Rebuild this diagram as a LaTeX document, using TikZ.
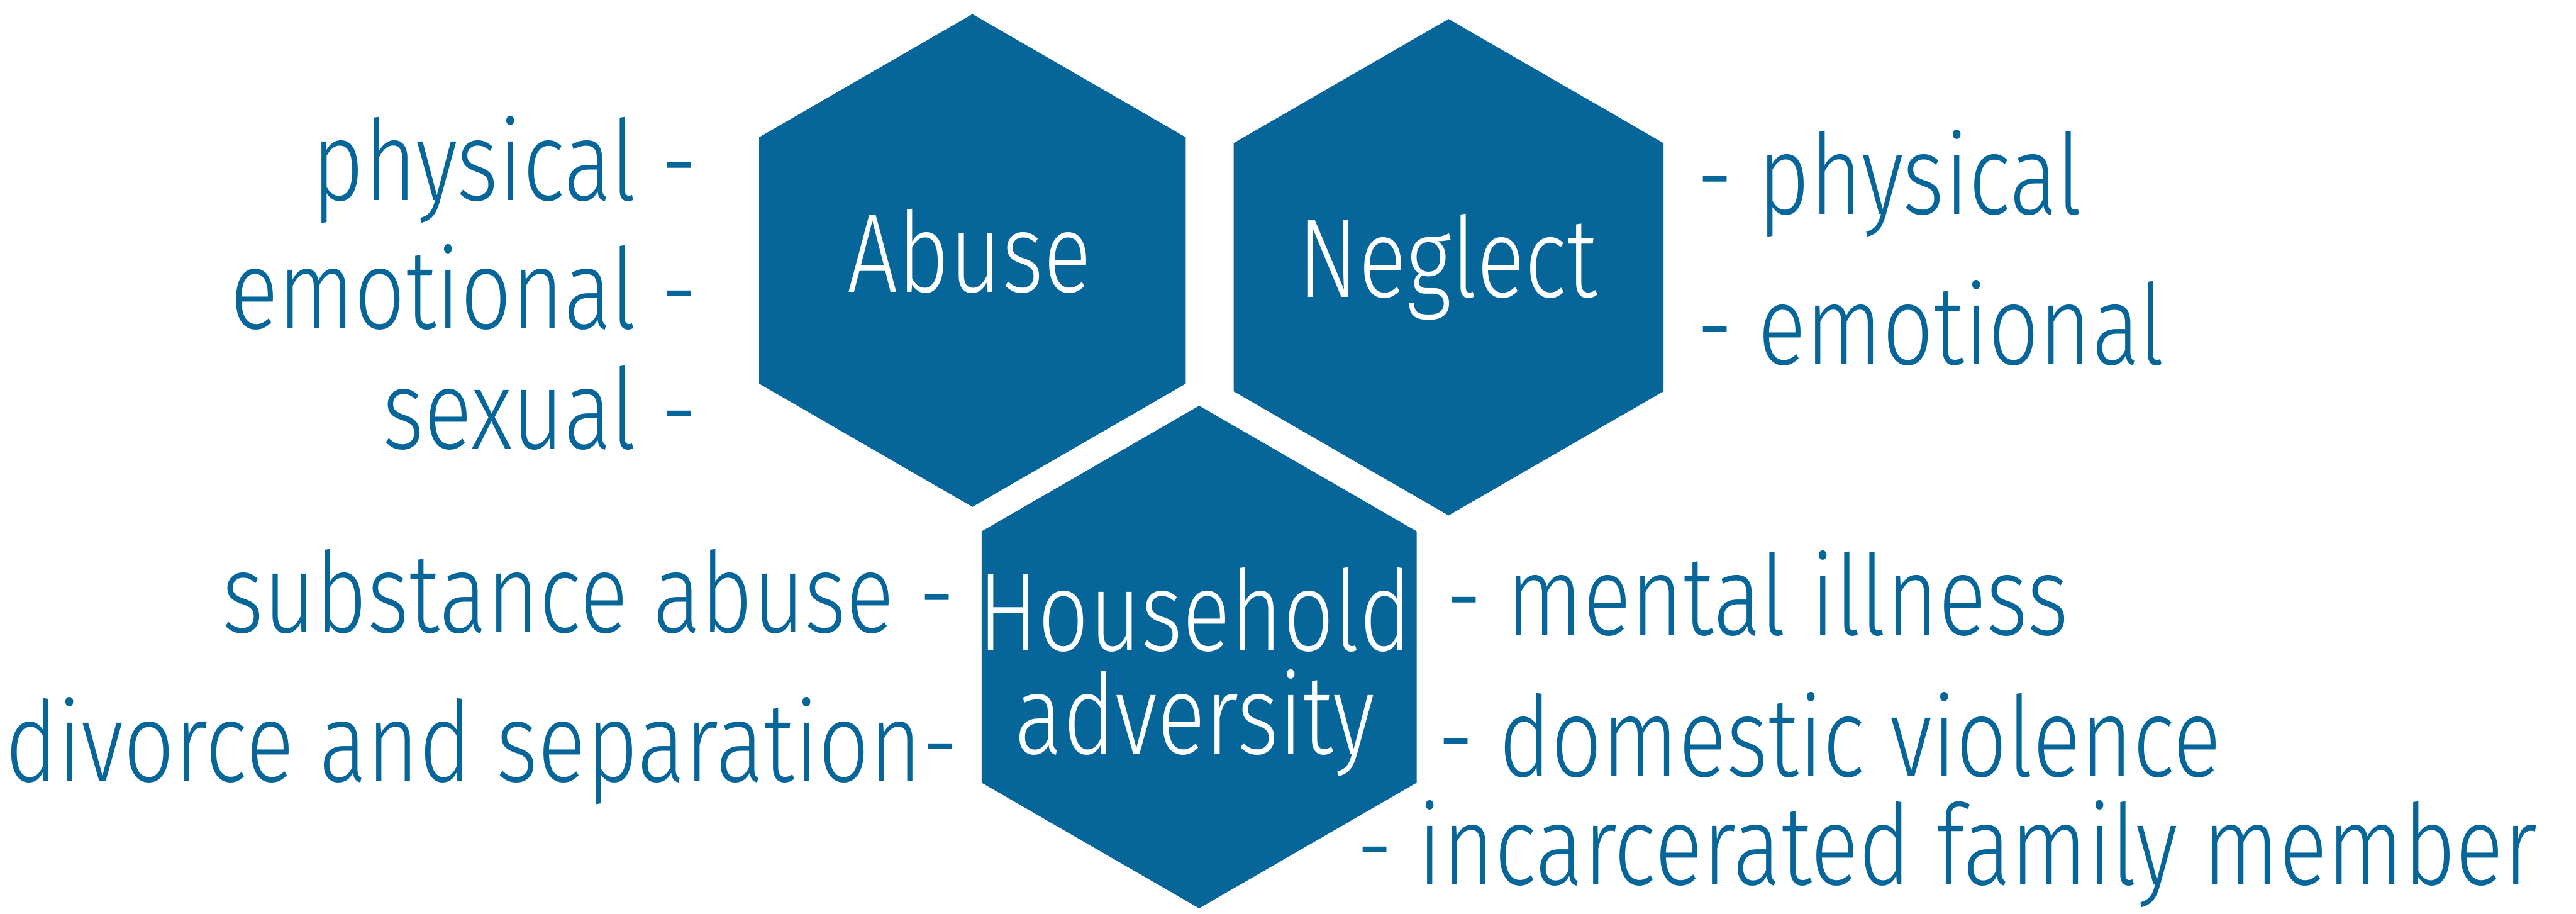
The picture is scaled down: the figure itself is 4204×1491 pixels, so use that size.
\documentclass[tikz,border=0pt]{standalone}
\usepackage{fontspec}
\setmainfont{Fira Sans}[UprightFont=* Light,FakeStretch=0.8]
\usetikzlibrary{shapes.geometric}
\definecolor{aceblue}{RGB}{6,102,154}

\begin{document}
\begin{tikzpicture}[x=.1mm,y=-.1mm,
  hexa/.style={regular polygon,regular polygon sides=6,shape border rotate=90,
    fill=aceblue,draw=none,inner sep=0pt,outer sep=0pt,minimum size=#1},
  hexa/.default=80.4mm,
  hextext/.style={text=white,font=\fontsize{52}{48}\selectfont,inner sep=0pt,align=center},
  item/.style={text=aceblue,font=\fontsize{52}{60}\selectfont,inner sep=0pt}]
\useasboundingbox (0,0) rectangle (4204,1491);
% the three hexagons
\node[hexa] (abuse) at (1587,425) {};
\node[hexa=81mm] (neglect) at (2364,436) {};
\node[hexa=82mm] (household) at (1957,1072) {};
\node[hextext,anchor=base] (abuseT) at (1582,477) {Abuse};
\node[hextext,anchor=base] (neglectT) at (2363,485) {Neglect};
% base is the last line here
\node[hextext,anchor=base] (householdT) at (1950,1230) {Household\\adversity};
% abuse
\node[item,anchor=base east] (abPhys) at (1139,327) {physical -};
\node[item,anchor=base east] (abEmo) at (1139,536) {emotional -};
\node[item,anchor=base east] (abSex) at (1139,732) {sexual -};
% neglect
\node[item,anchor=base west] (negPhys) at (2769,349) {- physical};
\node[item,anchor=base west] (negEmo) at (2769,595) {- emotional};
% household adversity
\node[item,anchor=base east] (hhSub) at (1560,1032) {substance abuse -};
\node[item,anchor=base east] (hhDiv) at (1564,1275) {divorce and separation-};
\node[item,anchor=base west] (hhMent) at (2359,1036) {- mental illness};
\node[item,anchor=base west] (hhDom) at (2346,1267) {- domestic violence};
\node[item,anchor=base west] (hhJail) at (2214,1444) {- incarcerated family member};
\end{tikzpicture}
\end{document}
